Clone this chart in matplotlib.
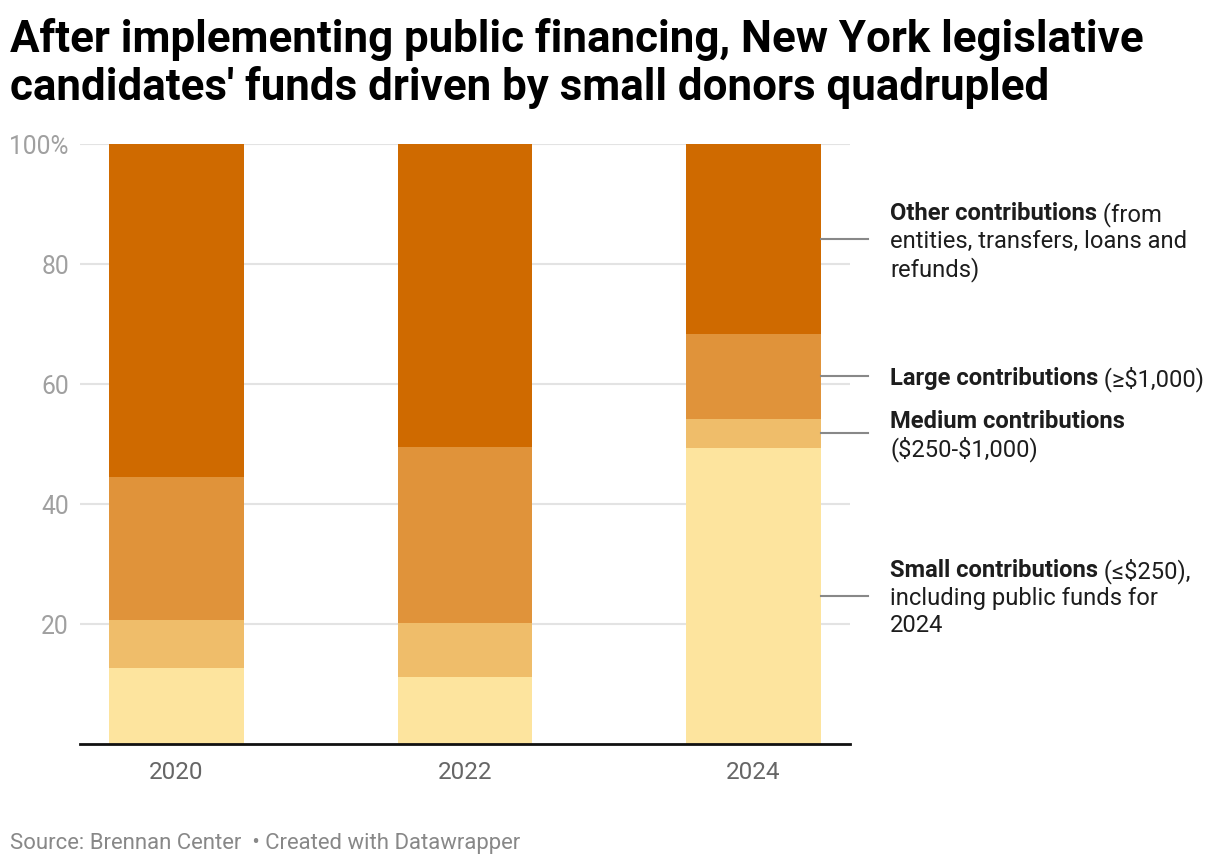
import numpy as np
import matplotlib
matplotlib.use("Agg")
import matplotlib.pyplot as plt

plt.rcParams['font.family'] = ['Roboto', 'DejaVu Sans']
plt.rcParams['text.parse_math'] = False

# data (% of funds)
years = ["2020", "2022", "2024"]
small = np.array([12.7, 11.2, 49.4])
medium = np.array([8.0, 9.0, 4.8])
large = np.array([23.8, 29.3, 14.2])
other = 100 - small - medium - large

series = [small, medium, large, other]
colors = ["#fde49e", "#efbd6a", "#e0933a", "#cf6a00"]

labels = [
    ("Small contributions", " (\u2264$250),", ["including public funds for", "2024"]),
    ("Medium contributions", "", ["($250-$1,000)"]),
    ("Large contributions", " (\u2265$1,000)", []),
    ("Other contributions", " (from", ["entities, transfers, loans and", "refunds)"]),
]

title_lines = ["After implementing public financing, New York legislative",
               "candidates' funds driven by small donors quadrupled"]

W, H = 1220, 866
fig = plt.figure(figsize=(W / 100, H / 100), dpi=100)
ax = fig.add_axes([80 / W, 1 - 744 / H, 770 / W, 600 / H])

x = np.arange(len(years))
bw = 0.467
bottom = np.zeros(len(years))
for vals, c in zip(series, colors):
    ax.bar(x, vals, bw, bottom=bottom, color=c, zorder=2)
    bottom += vals

ax.set_xlim(-0.334, 2.334)
ax.set_ylim(0, 100)
ax.set_yticks([20, 40, 60, 80, 100])
ax.set_yticklabels(["20", "40", "60", "80", "100%"])
ax.set_xticks(x)
ax.set_xticklabels(years)
ax.grid(axis="y", color="#e3e3e3", linewidth=1.5, zorder=0)
ax.tick_params(axis="y", length=0, pad=8, labelsize=17.7, labelcolor="#a0a0a0")
ax.tick_params(axis="x", length=0, pad=12, labelsize=17.5, labelcolor="#666666")
for s in ["top", "right", "left"]:
    ax.spines[s].set_visible(False)
ax.spines["bottom"].set_color("#111111")
ax.spines["bottom"].set_linewidth(2)
ax.spines["bottom"].set_zorder(3)

# labels to the right of the last bar, connected at segment midpoints
renderer = fig.canvas.get_renderer()
last = len(years) - 1
bar_right = x[last] + bw / 2
line_end = 2.396
text_x = 890 / W
lh = 27.5
fs = 17.1
bottom_last = 0.0
for vals, (bold, reg, rest) in zip(series, labels):
    mid = bottom_last + vals[last] / 2
    bottom_last += vals[last]
    ax.plot([bar_right, line_end], [mid, mid], color="#888888", lw=1.5,
            clip_on=False, zorder=3)
    ypix = ax.transData.transform((0, mid))[1]
    n = 1 + len(rest)
    first = ypix + (n - 1) * lh / 2
    t = fig.text(text_x, first / H, bold, fontsize=fs, fontweight="bold",
                 color="#1d1d1d", va="center_baseline", ha="left")
    if reg:
        bb = t.get_window_extent(renderer)
        fig.text(bb.x1 / W, first / H, reg, fontsize=fs, color="#1d1d1d",
                 va="center_baseline", ha="left")
    for i, line in enumerate(rest):
        fig.text(text_x, (first - (i + 1) * lh) / H, line, fontsize=fs,
                 color="#1d1d1d", va="center_baseline", ha="left")

for i, line in enumerate(title_lines):
    fig.text(10 / W, 1 - (52 + 48 * i) / H, line, fontsize=31.6,
             fontweight="bold", color="#000000", va="baseline", ha="left")

fig.text(10 / W, 1 - 849 / H,
         "Source: Brennan Center  \u2022 Created with Datawrapper",
         fontsize=15.9, color="#888888", va="baseline", ha="left")

fig.savefig("out.png", dpi=100)
